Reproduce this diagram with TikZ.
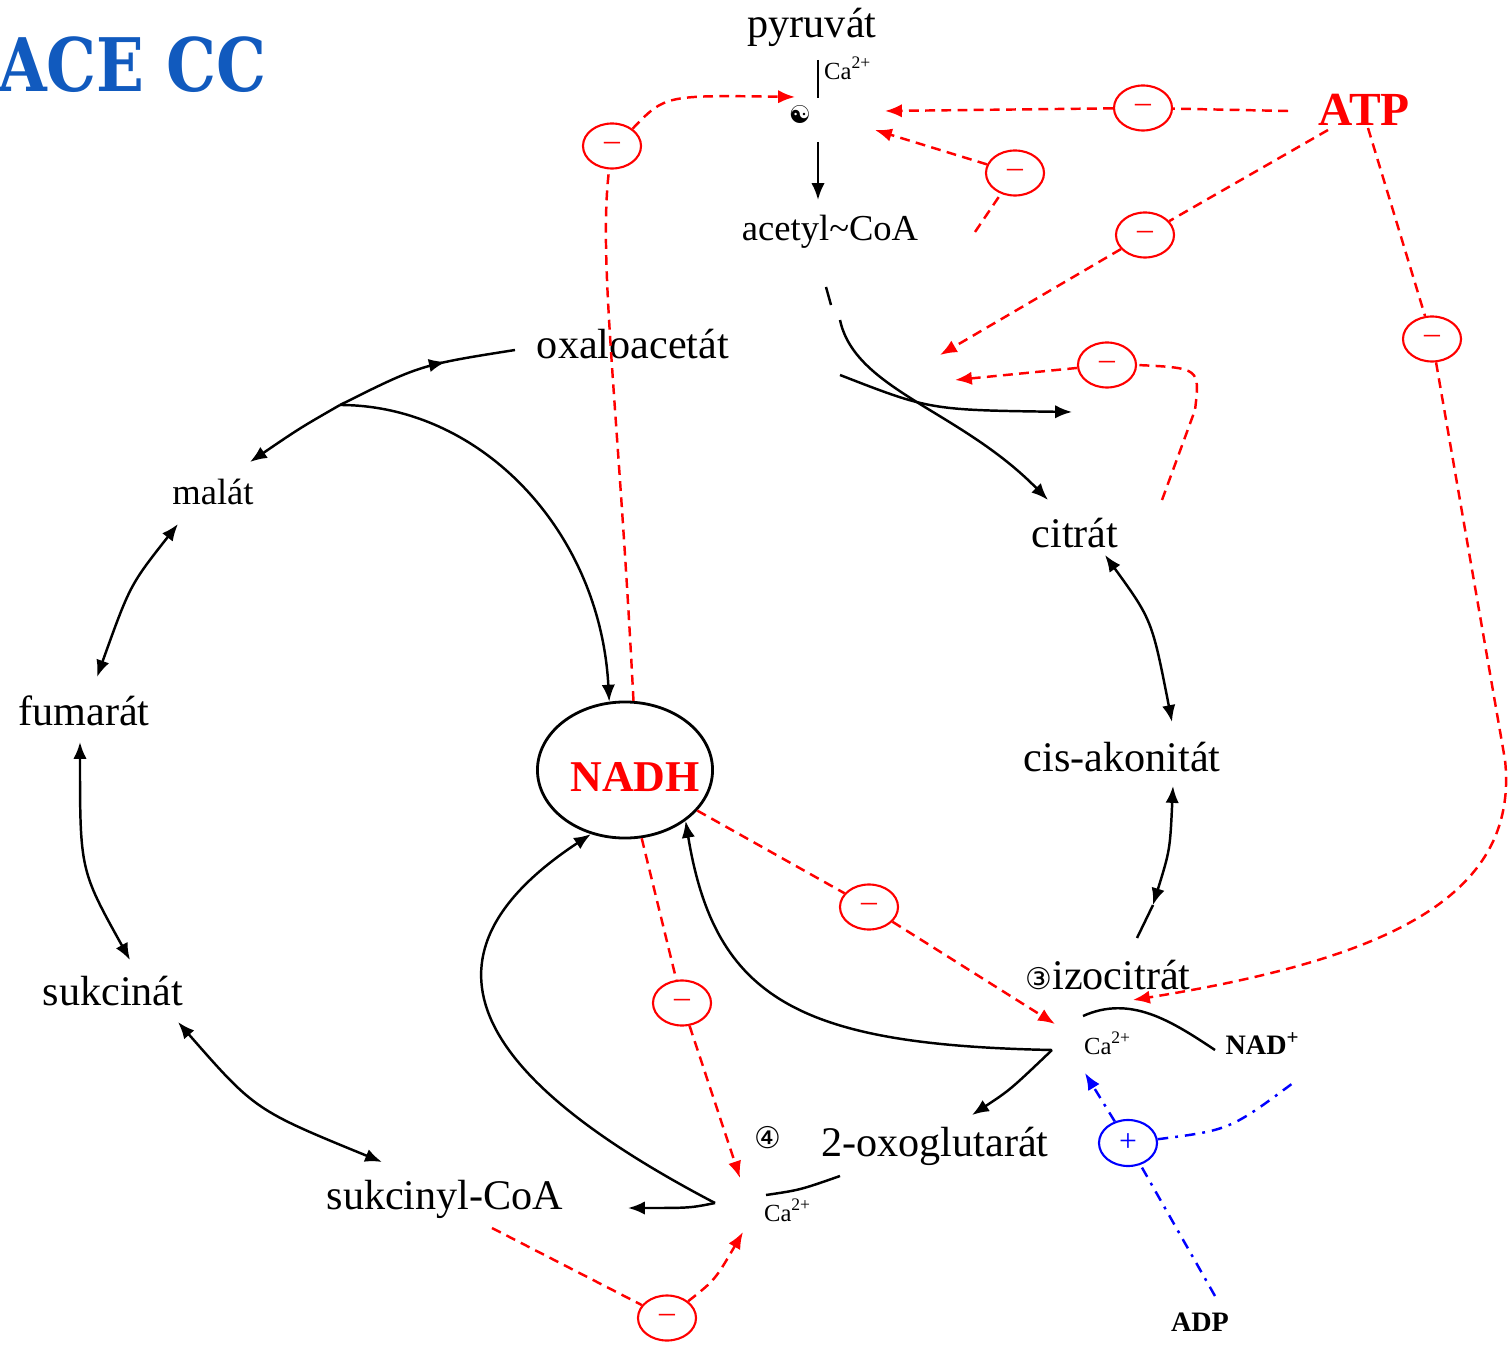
\documentclass[tikz,border=0pt]{standalone}
\usepackage{fontspec}
\setmainfont{Liberation Serif}
\newfontfamily\symfont{DejaVu Sans}
\newfontfamily\titlefont[FakeStretch=0.85]{DejaVu Serif}
\usetikzlibrary{arrows.meta,shapes.geometric,decorations.markings}
\definecolor{titleblue}{RGB}{17,90,190}

\begin{document}
\begin{tikzpicture}[x=0.01cm,y=-0.01cm,line width=0.7pt,
    met/.style={inner sep=1pt,font=\fontsize{12}{14}\selectfont},
    small/.style={inner sep=1pt,font=\fontsize{10.4}{12}\selectfont},
    ion/.style={inner sep=0pt,font=\fontsize{7}{8}\selectfont},
    bold/.style={inner sep=1pt,font=\fontsize{8}{9}\selectfont\bfseries},
    inh/.style={ellipse,draw=red,line width=0.6pt,minimum width=0.58cm,minimum height=0.45cm,
                inner sep=0pt,text=red,font=\fontsize{9}{10}\selectfont},
    act/.style={ellipse,draw=blue,line width=0.6pt,minimum width=0.58cm,minimum height=0.46cm,
                inner sep=0pt,text=blue,font=\fontsize{9}{10}\selectfont},
    tip/.style={-{Latex[length=4.8pt,width=3.8pt]}},
    dtip/.style={{Latex[length=4.8pt,width=3.8pt]}-{Latex[length=4.8pt,width=3.8pt]}},
    midtip/.style={postaction={decorate},decoration={markings,
                   mark=at position 0.62 with {\arrow{Latex[length=4.8pt,width=3.8pt]}}}},
    reg/.style={red,dash pattern=on 2.8pt off 1.8pt},
    actline/.style={blue,dash pattern=on 3pt off 2pt on 0.8pt off 2pt}]
  \useasboundingbox (0,0) rectangle (1509,1346);

  % title
  \node[anchor=base west,inner sep=0pt,text=titleblue,font=\titlefont\bfseries\fontsize{21}{24}\selectfont] (title) at (-3,92) {ACE CC};

  % metabolites
  \node[met] (pyr) at (812,27) {pyruvát};
  \node[small] (acoa) at (830,232) {acetyl\textasciitilde CoA};
  \node[met] (oaa) at (633,344) {oxaloacetát};
  \node[small] (mal) at (213,492) {malát};
  \node[met] (fum) at (84,711) {fumarát};
  \node[met] (suc) at (113,991) {sukcinát};
  \node[met] (scoa) at (445,1199) {sukcinyl-CoA};
  \node[met] (ogl) at (935,1146) {2-oxoglutarát};
  \node[met] (izo) at (1108,975) {{\symfont\fontsize{8.5}{9}\selectfont ③}izocitrát};
  \node[met] (cis) at (1122,757) {cis-akonitát};
  \node[met] (cit) at (1075,533) {citrát};
  \node[ellipse,draw,line width=0.8pt,minimum width=1.75cm,minimum height=1.36cm,inner sep=0pt] (nadh) at (625,770) {};
  \node[inner sep=0pt,text=red,font=\fontsize{12.5}{14}\selectfont\bfseries] (nadhlbl) at (635,777) {NADH};
  \node[inner sep=1pt,text=red,font=\fontsize{13.5}{15}\selectfont\bfseries] (atp) at (1364,110) {ATP};
  \node[bold] (nad) at (1263,1044) {NAD\textsuperscript{+}};
  \node[bold] (adp) at (1200,1322) {ADP};

  % enzymes and ions
  \node[inner sep=0pt,font=\symfont\fontsize{7}{8}\selectfont] (pdh) at (800,115) {☯};
  \node[ion,anchor=west] (ca1) at (823,68) {Ca\textsuperscript{2+}};
  \node[ion] (ca2) at (1108,1043) {Ca\textsuperscript{2+}};
  \node[ion] (ca3) at (788,1210) {Ca\textsuperscript{2+}};
  \node[inner sep=0pt,font=\symfont\fontsize{8.5}{9}\selectfont] (ogdh) at (768,1138) {④};

  % inhibition / activation marks
  \node[inh] (m1) at (612,146) {–};
  \node[inh] (m2) at (1143,108) {–};
  \node[inh] (m3) at (1015,173) {–};
  \node[inh] (m4) at (1145,235) {–};
  \node[inh] (m5) at (1107,365) {–};
  \node[inh] (m6) at (1432,339) {–};
  \node[inh] (m7) at (869,907) {–};
  \node[inh] (m8) at (682,1003) {–};
  \node[inh] (m9) at (667,1318) {–};
  \node[act] (p1) at (1128,1143) {+};

  % free ends
  \coordinate (bar1) at (818,60);
  \coordinate (bar2) at (818,98);
  \coordinate (pd1) at (818,142);
  \coordinate (pd2) at (818,200);
  \coordinate (tk1) at (826,287);
  \coordinate (tk2) at (831,305);
  \coordinate (cs1) at (840,320);
  \coordinate (cs2) at (1048,500);
  \coordinate (cs3) at (840,375);
  \coordinate (cs4) at (1072,412);
  \coordinate (br1) at (340,405);
  \coordinate (oaaw) at (515,350);
  \coordinate (malt) at (250,462);
  \coordinate (malb) at (178,524);
  \coordinate (fumt) at (97,677);
  \coordinate (fumb) at (80,742);
  \coordinate (suct) at (130,960);
  \coordinate (sucb) at (178,1022);
  \coordinate (scoat) at (382,1162);
  \coordinate (citb) at (1105,555);
  \coordinate (cist) at (1172,722);
  \coordinate (cisb) at (1173,786);
  \coordinate (br2) at (1052,1050);
  \coordinate (ogt) at (972,1115);
  \coordinate (nd1) at (1083,1016);
  \coordinate (nd2) at (1215,1050);
  \coordinate (br3) at (715,1203);
  \coordinate (sct) at (628,1208);
  \coordinate (og1) at (766,1195);
  \coordinate (og2) at (840,1176);
  \coordinate (ib) at (1153,905);
  \coordinate (ie) at (1137,938);

  % cycle
  \draw (bar1) -- (bar2);
  \draw[tip] (pd1) -- (pd2);
  \draw (tk1) -- (tk2);
  \draw[tip] (cs1) .. controls (855,390) and (960,410) .. (cs2);
  \draw[tip] (cs3) .. controls (930,410) .. (cs4);
  \draw[midtip] (br1) .. controls (420,365) .. (oaaw);
  \draw[tip] (br1) .. controls (300,428) .. (malt);
  \draw[tip] (br1) .. controls (480,405) and (600,530) .. (nadh.103);
  \draw[dtip] (malb) .. controls (130,585) .. (fumt);
  \draw[dtip] (fumb) .. controls (80,870) .. (suct);
  \draw[dtip] (sucb) .. controls (255,1110) .. (scoat);
  \draw[dtip] (citb) .. controls (1152,620) .. (cist);
  \draw[dtip] (ib) .. controls (1170,850) .. (cisb);
  \draw (ib) -- (ie);
  \draw[tip] (br2) .. controls (800,1045) and (715,1000) .. (nadh.-40);
  \draw[tip] (br2) .. controls (1010,1090) .. (ogt);
  \draw (nd1) .. controls (1130,995) and (1170,1020) .. (nd2);
  \draw[tip] (br3) .. controls (690,1208) .. (sct);
  \draw[tip] (br3) .. controls (480,1080) and (400,960) .. (nadh.-118);
  \draw (og1) .. controls (800,1190) .. (og2);

  % inhibitions
  \coordinate (t1) at (795,97);
  \coordinate (s2) at (1288,111);
  \coordinate (t2) at (885,111);
  \coordinate (s3) at (975,232);
  \coordinate (t3) at (875,130);
  \coordinate (s4) at (1328,130);
  \coordinate (t4) at (940,355);
  \coordinate (s5) at (1162,500);
  \coordinate (t5) at (955,380);
  \coordinate (s6) at (1368,128);
  \coordinate (t6) at (1133,1000);
  \coordinate (t7) at (1055,1024);
  \coordinate (t8) at (740,1178);
  \coordinate (s9) at (492,1228);
  \coordinate (t9) at (743,1232);
  \draw[reg] (nadh.83) .. controls (618,400) and (598,260) .. (m1);
  \draw[reg,tip] (m1.40) .. controls (665,95) .. (t1);
  \draw[reg] (s2) -- (m2);
  \draw[reg,tip] (m2) -- (t2);
  \draw[reg] (s3) -- (m3);
  \draw[reg,tip] (m3) -- (t3);
  \draw[reg] (s4) -- (m4);
  \draw[reg,tip] (m4) -- (t4);
  \draw[reg] (s5) -- (1195,410) .. controls (1200,368) .. (m5.east);
  \draw[reg,tip] (m5) -- (t5);
  \draw[reg] (s6) -- (m6);
  \draw[reg,tip] (m6) -- (1505,760) .. controls (1520,900) and (1380,960) .. (t6);
  \draw[reg] (nadh) -- (m7);
  \draw[reg,tip] (m7) -- (t7);
  \draw[reg] (nadh) -- (m8);
  \draw[reg,tip] (m8) -- (t8);
  \draw[reg] (s9) -- (m9);
  \draw[reg,tip] (m9) .. controls (715,1280) .. (t9);

  % activation
  \coordinate (t10) at (1085,1073);
  \coordinate (s10) at (1297,1080);
  \coordinate (s11) at (1215,1296);
  \draw[actline,tip] (p1) -- (t10);
  \draw[actline] (p1) .. controls (1230,1130) .. (s10);
  \draw[actline] (s11) -- (p1);
\end{tikzpicture}
\end{document}
